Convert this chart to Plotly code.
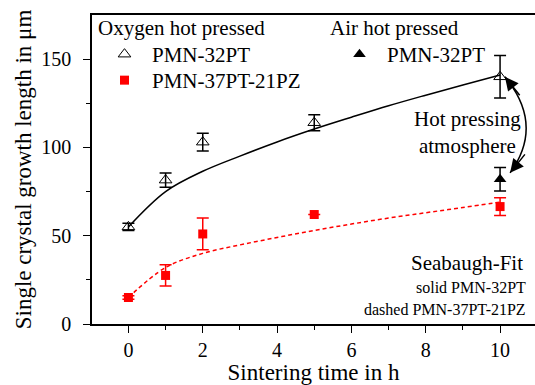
import plotly.graph_objects as go

# ---- data ----
time_h = [0, 1, 2, 5, 10]
pmn32_oxy = [55, 81.5, 103, 114, 140]
pmn32_oxy_err = [2, 4, 5, 4.5, 12]
pmn37_oxy = [15, 27.5, 51, 62, 66.5]
pmn37_oxy_err = [1, 6, 9, 0, 5]
air_time = [10]
pmn32_air = [82]
pmn32_air_err = [6.7]

fit_t = [0, 1, 2, 3, 4, 5, 6, 7, 8, 9, 10]
fit_pmn32 = [55, 75, 86.5, 95.1, 103.1, 110.4, 117.1, 123.6, 129.6, 135.4, 141]
fit_pmn37 = [15, 32, 40, 44.8, 49, 53, 56.6, 60, 63, 66, 69]

FONT = "Liberation Serif, Times New Roman, serif"

fig = go.Figure()

fig.add_trace(go.Scatter(x=fit_t, y=fit_pmn32, mode="lines", line=dict(color="black", width=1.5, shape="spline"),
                         showlegend=False, hoverinfo="skip"))
fig.add_trace(go.Scatter(x=fit_t, y=fit_pmn37, mode="lines", line=dict(color="red", width=1.5, dash="4px,3px", shape="spline"),
                         showlegend=False, hoverinfo="skip"))

fig.add_trace(go.Scatter(x=time_h, y=pmn32_oxy, mode="markers", name="PMN-32PT",
                         marker=dict(symbol="triangle-up-open", size=11, color="black", line=dict(width=1)),
                         error_y=dict(type="data", array=pmn32_oxy_err, color="black", thickness=1.5, width=6),
                         legend="legend"))
fig.add_trace(go.Scatter(x=time_h, y=pmn37_oxy, mode="markers", name="PMN-37PT-21PZ",
                         marker=dict(symbol="square", size=9, color="red"),
                         error_y=dict(type="data", array=pmn37_oxy_err, color="red", thickness=1.5, width=6),
                         legend="legend3"))
fig.add_trace(go.Scatter(x=air_time, y=pmn32_air, mode="markers", name="PMN-32PT",
                         marker=dict(symbol="triangle-up", size=11, color="black"),
                         error_y=dict(type="data", array=pmn32_air_err, color="black", thickness=1.5, width=6),
                         legend="legend2"))

L, R, T, B = 92, 0, 15, 61
W, H = 535, 385
pw, ph = W - L - R, H - T - B

def px(x):
    return (x - L) / pw

def py(y):
    return (H - B - y) / ph

annos = [
    dict(text="Oxygen hot pressed", x=px(96), y=py(28), xanchor="left", yanchor="middle", font=dict(size=21)),
    dict(text="Air hot pressed", x=px(328), y=py(28), xanchor="left", yanchor="middle", font=dict(size=21)),
    dict(text="Hot pressing<br>atmosphere", x=px(467), y=py(132), xanchor="center", yanchor="middle", font=dict(size=21)),
    dict(text="Seabaugh-Fit", x=px(525), y=py(263), xanchor="right", yanchor="middle", font=dict(size=21)),
    dict(text="solid PMN-32PT", x=px(528), y=py(287), xanchor="right", yanchor="middle", font=dict(size=16)),
    dict(text="dashed PMN-37PT-21PZ", x=px(528), y=py(309), xanchor="right", yanchor="middle", font=dict(size=16)),
]
for a in annos:
    a.update(xref="paper", yref="paper", showarrow=False)
    a["font"].update(family=FONT, color="black")

# curved double arrow (annotation)
fig.add_shape(type="path", xref="x", yref="y", path="M 10.13,140 Q 11.2,112.8 10.27,85.6",
              line=dict(color="black", width=1.5))
annos.append(dict(x=10.13, y=140, ax=16, ay=20, xref="x", yref="y", axref="pixel", ayref="pixel", text="",
                  showarrow=True, arrowhead=2, arrowsize=1.8, arrowwidth=1.5, arrowcolor="black"))
annos.append(dict(x=10.27, y=85.6, ax=16, ay=-20, xref="x", yref="y", axref="pixel", ayref="pixel", text="",
                  showarrow=True, arrowhead=2, arrowsize=1.8, arrowwidth=1.5, arrowcolor="black"))

leg = dict(xanchor="left", yanchor="top", bgcolor="rgba(0,0,0,0)", font=dict(size=21, family=FONT), itemwidth=45)

fig.update_layout(
    width=W, height=H,
    margin=dict(l=L, r=R, t=T, b=B, autoexpand=False),
    paper_bgcolor="white", plot_bgcolor="white",
    font=dict(family=FONT, color="black", size=20),
    annotations=annos,
    legend=dict(x=px(97), y=py(34), **leg),
    legend3=dict(x=px(97), y=py(60), **leg),
    legend2=dict(x=px(332), y=py(34), **leg),
)

fig.update_xaxes(range=[-0.98, 10.94], showgrid=False, zeroline=False, showline=True, linecolor="black", linewidth=1.5,
                 mirror=True, ticks="outside", ticklen=7, tickwidth=1.2, tickcolor="black", tickvals=[0, 2, 4, 6, 8, 10],
                 minor=dict(tickvals=[1, 3, 5, 7, 9], ticks="outside", ticklen=4, tickwidth=1.2, tickcolor="black"),
                 tickfont=dict(size=20, family=FONT), automargin=False,
                 title=dict(text="Sintering time in h", font=dict(size=23, family=FONT), standoff=5))
fig.update_yaxes(range=[0, 175], showgrid=False, zeroline=False, showline=True, linecolor="black", linewidth=1.5,
                 mirror=False, ticks="outside", ticklen=7, tickwidth=1.2, tickcolor="black", tickvals=[0, 50, 100, 150],
                 minor=dict(tickvals=[25, 75, 125], ticks="outside", ticklen=4, tickwidth=1.2, tickcolor="black"),
                 tickfont=dict(size=20, family=FONT), ticklabelstandoff=8, automargin=False,
                 title=dict(text="Single crystal growth length in μm", font=dict(size=23, family=FONT), standoff=3))

fig.write_html("out.html", config={"displayModeBar": False},
               post_script="document.body.style.margin='0';document.body.style.overflow='hidden';")
